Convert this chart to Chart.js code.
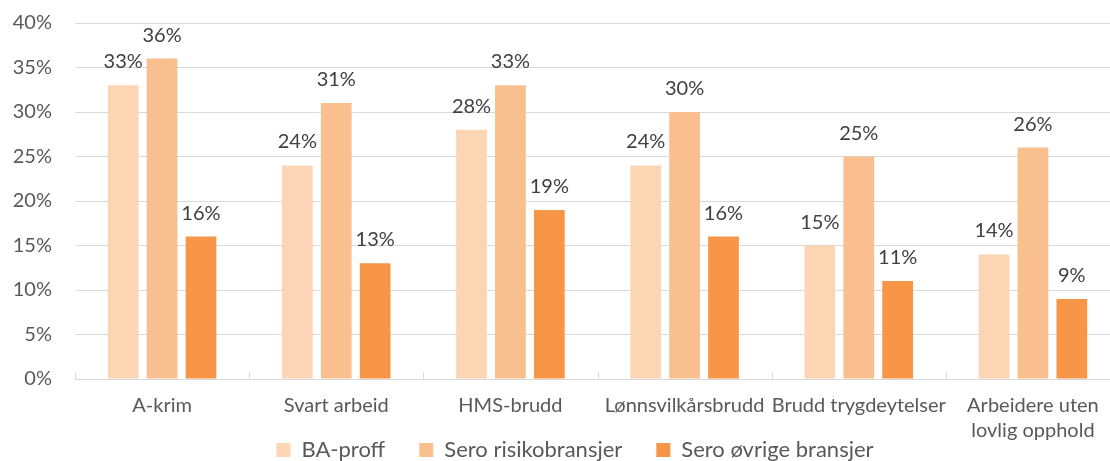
<!DOCTYPE html>
<html>
<head>
<meta charset="utf-8">
<script src="https://cdn.jsdelivr.net/npm/chart.js@4.4.0/dist/chart.umd.min.js"></script>
<style>
  html, body { margin: 0; padding: 0; background: #fff; overflow: hidden; }
  #wrap { width: 1120px; height: 507px; }
</style>
</head>
<body>
<div id="wrap"><canvas id="myChart"></canvas></div>
<script>
  const categories = ['A-krim', 'Svart arbeid', 'HMS-brudd', 'Lønnsvilkårsbrudd', 'Brudd trygdeytelser', ['Arbeidere uten', 'lovlig opphold']];
  const seriesNames = ['BA-proff', 'Sero risikobransjer', 'Sero øvrige bransjer'];
  const baProff = [33, 24, 28, 24, 15, 14];
  const seroRisiko = [36, 31, 33, 30, 25, 26];
  const seroOvrige = [16, 13, 19, 16, 11, 9];
  const yTicks = [0, 5, 10, 15, 20, 25, 30, 35, 40];

  const FONT = 'Lato, "Liberation Sans", sans-serif';

  // value labels above the bars
  const barLabels = {
    id: 'barLabels',
    afterDatasetsDraw(chart) {
      const c = chart.ctx;
      c.save();
      c.font = '20px ' + FONT;
      c.fillStyle = '#404040';
      c.textAlign = 'center';
      c.textBaseline = 'alphabetic';
      chart.data.datasets.forEach((ds, i) => {
        chart.getDatasetMeta(i).data.forEach((bar, j) => {
          c.fillText(ds.data[j] + '%', bar.x, bar.y - 17);
        });
      });
      c.restore();
    }
  };

  // small tick marks between categories, pointing up from the axis
  const catTicks = {
    id: 'catTicks',
    afterDraw(chart) {
      const x = chart.scales.x, y = chart.scales.y;
      const c = chart.ctx;
      const base = y.getPixelForValue(0);
      c.save();
      c.strokeStyle = '#d9d9d9';
      c.lineWidth = 1;
      c.beginPath();
      for (let i = 0; i <= categories.length; i++) {
        const px = Math.round(x.getPixelForValue(i - 0.5)) + 0.5;
        c.moveTo(px, base);
        c.lineTo(px, base - 7);
      }
      c.stroke();
      c.restore();
    }
  };

  // legend sits closer to the axis, overlapping the second label line like Excel does
  const legendUp = {
    id: 'legendUp',
    afterLayout(chart) {
      chart.legend.top -= 36;
      chart.legend.bottom -= 36;
      chart.legend.left += 9;
      chart.legend.right += 9;
    }
  };

  new Chart(document.getElementById('myChart'), {
    type: 'bar',
    data: {
      labels: categories,
      datasets: [
        { label: seriesNames[0], data: baProff, backgroundColor: '#fcd5b4' },
        { label: seriesNames[1], data: seroRisiko, backgroundColor: '#fabf8f' },
        { label: seriesNames[2], data: seroOvrige, backgroundColor: '#f79646' }
      ]
    },
    options: {
      responsive: true,
      maintainAspectRatio: false,
      animation: false,
      categoryPercentage: 0.67,
      barPercentage: 0.79,
      layout: { padding: { left: 12, right: 0, top: 23, bottom: 0 } },
      plugins: {
        legend: {
          position: 'bottom',
          labels: {
            font: { family: FONT, size: 22 },
            color: '#595959',
            boxWidth: 14,
            boxHeight: 14,
            padding: 34
          }
        },
        tooltip: { enabled: false }
      },
      scales: {
        x: {
          grid: { display: false },
          border: { color: '#d9d9d9' },
          afterFit(scale) { scale.height = 62; },
          ticks: {
            font: { family: FONT, size: 20, lineHeight: 1.25 },
            color: '#595959',
            padding: 6,
            maxRotation: 0,
            autoSkip: false
          }
        },
        y: {
          min: 0,
          max: 40,
          afterBuildTicks(axis) { axis.ticks = yTicks.map(v => ({ value: v })); },
          afterFit(scale) {
            scale.width = 63;
            scale.paddingTop = 0;
            scale.paddingBottom = 0;
          },
          grid: { color: '#d9d9d9', drawTicks: false },
          border: { display: false },
          ticks: {
            font: { family: FONT, size: 20 },
            color: '#595959',
            padding: 23,
            callback: v => v + '%'
          }
        }
      }
    },
    plugins: [barLabels, catTicks, legendUp]
  });
</script>
</body>
</html>
